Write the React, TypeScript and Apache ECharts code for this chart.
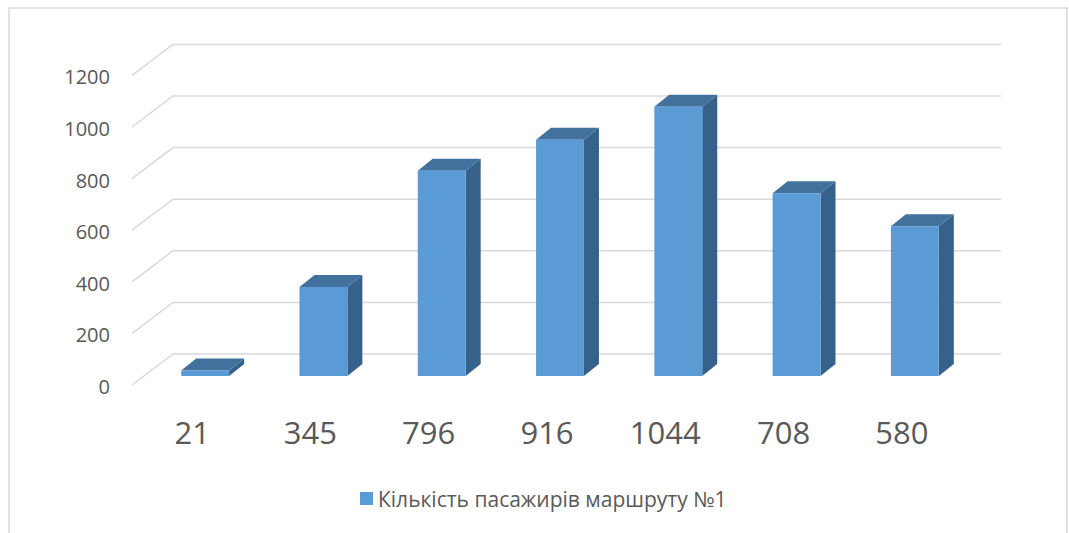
import React, { useEffect, useRef } from "react";
import * as echarts from "echarts";

const categories = ["21", "345", "796", "916", "1044", "708", "580"];
const values = [21, 345, 796, 916, 1044, 708, 580];
const yTicks = [0, 200, 400, 600, 800, 1000, 1200];
const seriesName = "Кількість пасажирів маршруту №1";

const FRONT = "#5B9BD5";
const TOP = "#41719C";
const SIDE = "#36618A";
const GRID = "#D9D9D9";
const TEXT = "#595959";
const FONT = "Open Sans";
const DX = 15;
const DY = 12;

export default function App() {
  const ref = useRef<HTMLDivElement>(null);
  useEffect(() => {
    document.body.style.margin = "0";
    const chart = echarts.init(ref.current!, null, { renderer: "svg" });
    const option: any = {
      animation: false,
      backgroundColor: "#ffffff",
      graphic: [
        {
          type: "rect",
          shape: { x: 9, y: 8, width: 1058, height: 560 },
          style: { fill: "none", stroke: GRID, lineWidth: 1.5 },
          silent: true,
          z: -10,
        },
      ],
      legend: {
        data: [seriesName],
        left: 360,
        top: 488,
        padding: 0,
        icon: "rect",
        itemWidth: 13,
        itemHeight: 13,
        itemGap: 6,
        textStyle: { fontSize: 21, color: TEXT, fontFamily: FONT },
      },
      grid: [
        { left: 146, right: 95, top: 66.4, bottom: 157 },
        { left: 146, right: 95, top: 76.9, bottom: 146.5 },
      ],
      xAxis: [
        {
          type: "category",
          gridIndex: 0,
          data: categories,
          axisLine: { show: false },
          axisTick: { show: false },
          axisLabel: {
            fontSize: 31,
            color: TEXT,
            fontFamily: FONT,
            margin: 40,
            padding: [0, 26, 0, 0],
          },
        },
        { type: "category", gridIndex: 1, data: categories, show: false },
      ],
      yAxis: [
        { type: "value", gridIndex: 0, min: 0, max: 1200, interval: 200, show: false },
        {
          type: "value",
          gridIndex: 1,
          min: 0,
          max: 1200,
          interval: 200,
          axisLine: { show: false },
          axisTick: { show: false },
          splitLine: { show: false },
          axisLabel: {
            fontSize: 20,
            color: TEXT,
            fontFamily: FONT,
            margin: 36,
            formatter: (v: number) => String(v),
          },
        },
      ],
      series: [
        {
          type: "custom",
          name: "grid",
          xAxisIndex: 0,
          yAxisIndex: 0,
          silent: true,
          data: yTicks.map((v) => [0, v]),
          encode: { x: 0, y: 1 },
          renderItem: (params: any, api: any) => {
            const v = api.value(1);
            const y = api.coord([0, v])[1];
            const cs = params.coordSys;
            return {
              type: "polyline",
              shape: {
                points: [
                  [cs.x - 14, y + 9],
                  [cs.x + 27, y - 22],
                  [cs.x + cs.width + 27, y - 22],
                ],
              },
              style: { stroke: GRID, lineWidth: 1.5, fill: "none" },
            };
          },
          z: 1,
        },
        {
          type: "custom",
          name: seriesName,
          xAxisIndex: 0,
          yAxisIndex: 0,
          itemStyle: { color: FRONT },
          data: values.map((v, i) => [i, v]),
          encode: { x: 0, y: 1 },
          renderItem: (params: any, api: any) => {
            const idx = api.value(0);
            const val = api.value(1);
            const p = api.coord([idx, val]);
            const p0 = api.coord([idx, 0]);
            const bw = api.size([1, 0])[0] * 0.405;
            const l = p[0] - bw / 2;
            const r = l + bw;
            const t = p[1];
            const b = p0[1];
            return {
              type: "group",
              children: [
                {
                  type: "polygon",
                  shape: { points: [[r, t], [r + DX, t - DY], [r + DX, b - DY], [r, b]] },
                  style: { fill: SIDE },
                },
                {
                  type: "polygon",
                  shape: { points: [[l, t], [r, t], [r + DX, t - DY], [l + DX, t - DY]] },
                  style: { fill: TOP },
                },
                {
                  type: "rect",
                  shape: { x: l, y: t, width: bw, height: b - t },
                  style: { fill: FRONT },
                },
              ],
            };
          },
          z: 2,
        },
      ],
    };
    chart.setOption(option);
    return () => chart.dispose();
  }, []);
  return <div ref={ref} style={{ width: 1069, height: 533 }} />;
}
